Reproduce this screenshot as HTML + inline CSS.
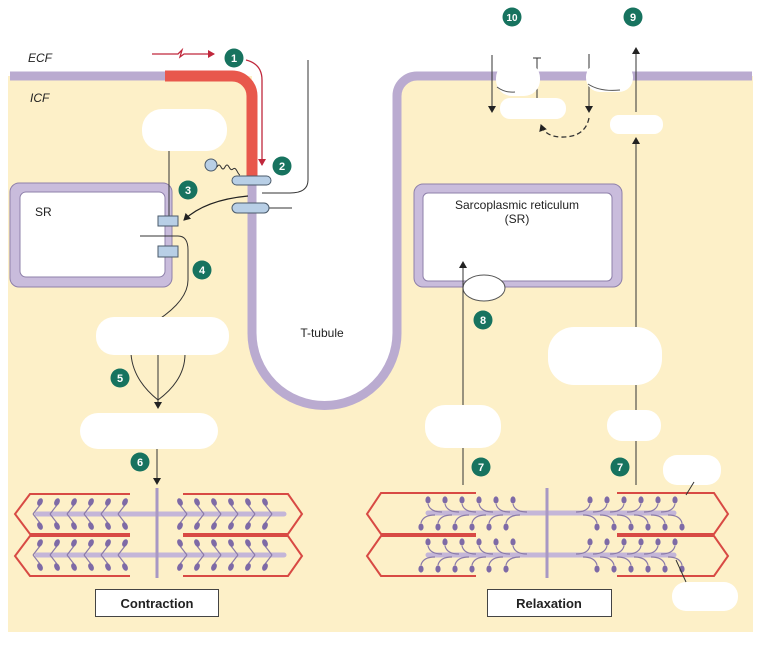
<!DOCTYPE html>
<html><head><meta charset="utf-8"><style>
html,body{margin:0;padding:0;background:#fff;}
svg{display:block;font-family:"Liberation Sans",Arial,sans-serif;}
</style></head><body>
<svg width="772" height="652" viewBox="0 0 772 652" xmlns="http://www.w3.org/2000/svg">
<defs>
<marker id="ah" markerWidth="8" markerHeight="8" refX="6" refY="4" orient="auto" markerUnits="userSpaceOnUse"><path d="M0,0 L7,4 L0,8 z" fill="#222"/></marker>
<marker id="ar" markerWidth="8" markerHeight="8" refX="6" refY="4" orient="auto" markerUnits="userSpaceOnUse"><path d="M0,0 L7,4 L0,8 z" fill="#c0283c"/></marker>
<g id="hu"><path d="M0,12 L7,3" stroke="#8a7aa8" stroke-width="1.2" fill="none"/><ellipse cx="7" cy="0" rx="2.6" ry="4" fill="#7e6aa6" transform="rotate(25 7 0)"/></g>
<g id="hd"><path d="M0,-12 L7,-3" stroke="#8a7aa8" stroke-width="1.2" fill="none"/><ellipse cx="7" cy="0" rx="2.6" ry="4" fill="#7e6aa6" transform="rotate(-25 7 0)"/></g>
<g id="ru"><path d="M14,10 Q2,10 0,2" stroke="#8a7aa8" stroke-width="1.2" fill="none"/><ellipse cx="0" cy="-2" rx="2.6" ry="3.6" fill="#7e6aa6"/></g>
<g id="rd"><path d="M14,-10 Q2,-10 0,-2" stroke="#8a7aa8" stroke-width="1.2" fill="none"/><ellipse cx="0" cy="2" rx="2.6" ry="3.6" fill="#7e6aa6"/></g>
<g id="lu"><path d="M-14,10 Q-2,10 0,2" stroke="#8a7aa8" stroke-width="1.2" fill="none"/><ellipse cx="0" cy="-2" rx="2.6" ry="3.6" fill="#7e6aa6"/></g>
<g id="ld"><path d="M-14,-10 Q-2,-10 0,-2" stroke="#8a7aa8" stroke-width="1.2" fill="none"/><ellipse cx="0" cy="2" rx="2.6" ry="3.6" fill="#7e6aa6"/></g>
</defs>

<!-- cytoplasm -->
<rect x="8" y="76" width="745" height="556" fill="#fdf0c8"/>
<!-- T-tubule interior -->
<path d="M232,72 L252,72 L252,333 A72.5,72.5 0 0 0 397,333 L397,96 A20,20 0 0 1 417,72 L440,72 L440,60 L232,60 z" fill="#fff"/>
<!-- membrane -->
<path d="M10,76 L232,76 A20,20 0 0 1 252,96 L252,333 A72.5,72.5 0 0 0 397,333 L397,96 A20,20 0 0 1 417,76 L752,76" fill="none" stroke="#c4b6d8" stroke-width="9"/>
<path d="M10,76 L232,76 A20,20 0 0 1 252,96 L252,333 A72.5,72.5 0 0 0 397,333 L397,96 A20,20 0 0 1 417,76 L752,76" fill="none" stroke="#9a8ab8" stroke-width="9" stroke-opacity="0.25"/>
<path d="M165,76 L232,76 A20,20 0 0 1 252,96 L252,176" fill="none" stroke="#e8584c" stroke-width="11"/>

<text x="28" y="62" font-size="12" font-style="italic" fill="#222">ECF</text>
<text x="30" y="102" font-size="12" font-style="italic" fill="#222">ICF</text>
<text x="322" y="337" font-size="12" text-anchor="middle" fill="#222">T-tubule</text>

<!-- red stimulus -->
<path d="M152,54 L178,54 L182,50 L180,57 L184,54 L214,54" fill="none" stroke="#c0283c" stroke-width="1.3" marker-end="url(#ar)"/>
<path d="M246,60 Q262,64 262,80 L262,165" fill="none" stroke="#c0283c" stroke-width="1.3" marker-end="url(#ar)"/>

<!-- SR left -->
<rect x="10" y="183" width="162" height="104" rx="9" fill="#c9bcdc" stroke="#8e80aa" stroke-width="1"/>
<rect x="20" y="192" width="145" height="85" rx="6" fill="#fff" stroke="#8e80aa" stroke-width="1"/>
<text x="35" y="216" font-size="12" fill="#222">SR</text>

<!-- T-tubule thin line -->
<path d="M308,60 L308,180 Q308,193 290,193 L262,193" fill="none" stroke="#333" stroke-width="1"/>
<line x1="268" y1="208" x2="292" y2="208" stroke="#333" stroke-width="1"/>

<!-- DHP channels -->
<rect x="232" y="176" width="39" height="9" rx="4.5" fill="#b8cfe6" stroke="#4a5a6a" stroke-width="1"/>
<rect x="232" y="203" width="37" height="10" rx="5" fill="#b8cfe6" stroke="#4a5a6a" stroke-width="1"/>
<circle cx="211" cy="165" r="6" fill="#b8cfe6" stroke="#4a5a6a" stroke-width="1"/>
<path d="M217,167 q2,-4 4,0 t4,0 t4,0 t4,2 t4,2 t3,4" fill="none" stroke="#333" stroke-width="1"/>

<!-- arrow 3 -->
<path d="M248,196 Q205,200 184,220" fill="none" stroke="#222" stroke-width="1.2" marker-end="url(#ah)"/>

<!-- RyR -->
<line x1="169" y1="150" x2="169" y2="216" stroke="#333" stroke-width="1"/>
<rect x="158" y="216" width="20" height="10" fill="#b8cfe6" stroke="#4a5a6a" stroke-width="1"/>
<rect x="158" y="246" width="20" height="11" fill="#b8cfe6" stroke="#4a5a6a" stroke-width="1"/>
<path d="M140,236 L178,236 Q188,236 188,250 L188,280 Q188,300 158,320" fill="none" stroke="#333" stroke-width="1"/>

<!-- 5 branching arrows -->
<path d="M131,354 Q133,380 158,400" fill="none" stroke="#333" stroke-width="1"/>
<path d="M185,354 Q185,380 158,400" fill="none" stroke="#333" stroke-width="1"/>
<line x1="158" y1="354" x2="158" y2="408" stroke="#333" stroke-width="1" marker-end="url(#ah)"/>
<line x1="157" y1="448" x2="157" y2="484" stroke="#333" stroke-width="1" marker-end="url(#ah)"/>

<!-- SR right -->
<rect x="414" y="184" width="208" height="103" rx="9" fill="#c9bcdc" stroke="#8e80aa" stroke-width="1"/>
<rect x="423" y="193" width="189" height="88" rx="5" fill="#fff" stroke="#8e80aa" stroke-width="1"/>
<text x="517" y="209" font-size="12" text-anchor="middle" fill="#222">Sarcoplasmic reticulum</text>
<text x="517" y="223" font-size="12" text-anchor="middle" fill="#222">(SR)</text>
<ellipse cx="484" cy="288" rx="21" ry="13" fill="#fff" stroke="#555" stroke-width="1"/>
<line x1="463" y1="485" x2="463" y2="262" stroke="#333" stroke-width="1" marker-end="url(#ah)"/>
<line x1="636" y1="485" x2="636" y2="138" stroke="#333" stroke-width="1" marker-end="url(#ah)"/>
<line x1="636" y1="112" x2="636" y2="48" stroke="#333" stroke-width="1" marker-end="url(#ah)"/>
<line x1="492" y1="55" x2="492" y2="112" stroke="#333" stroke-width="1" marker-end="url(#ah)"/>
<line x1="537" y1="58" x2="537" y2="100" stroke="#333" stroke-width="1"/>
<line x1="533" y1="58" x2="541" y2="58" stroke="#333" stroke-width="1"/>
<line x1="589" y1="54" x2="589" y2="112" stroke="#333" stroke-width="1" marker-end="url(#ah)"/>
<path d="M589,118 Q585,138 560,137 Q545,136 541,125" fill="none" stroke="#333" stroke-width="1.3" stroke-dasharray="5,3" marker-end="url(#ah)"/>

<!-- white blobs -->
<g fill="#fff">
<rect x="142" y="109" width="85" height="42" rx="20"/>
<rect x="96" y="317" width="133" height="38" rx="18"/>
<rect x="80" y="413" width="138" height="36" rx="18"/>
<rect x="548" y="327" width="114" height="58" rx="26"/>
<rect x="425" y="405" width="76" height="43" rx="20"/>
<rect x="607" y="410" width="54" height="31" rx="15"/>
<rect x="663" y="455" width="58" height="30" rx="14"/>
<rect x="672" y="582" width="66" height="29" rx="14"/>
<rect x="500" y="98" width="66" height="21" rx="10"/>
<rect x="610" y="115" width="53" height="19" rx="9"/>
<rect x="496" y="62" width="44" height="34" rx="16"/>
<rect x="586" y="63" width="47" height="29" rx="14"/>
</g>
<path d="M497,87 Q505,93 515,92" stroke="#555" fill="none"/>
<path d="M588,84 Q600,92 620,90" stroke="#555" fill="none"/>

<!-- contraction sarcomeres -->
<g fill="none" stroke="#d84a44" stroke-width="2">
<path d="M130,494 L30,494 L15,514 L30,534 L130,534"/>
<path d="M183,494 L288,494 L302,514 L288,534 L183,534"/>
<path d="M130,536 L30,536 L15,556 L30,576 L130,576"/>
<path d="M183,536 L288,536 L302,556 L288,576 L183,576"/>
</g>
<g stroke="#c4b6d8" stroke-width="5" stroke-linecap="round">
<line x1="37" y1="514" x2="284" y2="514"/>
<line x1="37" y1="555" x2="284" y2="555"/>
</g>
<line x1="157" y1="488" x2="157" y2="578" stroke="#a898c4" stroke-width="3"/>
<g>
<use href="#hu" x="33" y="502"/><use href="#hu" x="50" y="502"/><use href="#hu" x="67" y="502"/><use href="#hu" x="84" y="502"/><use href="#hu" x="101" y="502"/><use href="#hu" x="118" y="502"/>
<use href="#hd" x="33" y="526"/><use href="#hd" x="50" y="526"/><use href="#hd" x="67" y="526"/><use href="#hd" x="84" y="526"/><use href="#hd" x="101" y="526"/><use href="#hd" x="118" y="526"/>
<use href="#hu" x="33" y="543"/><use href="#hu" x="50" y="543"/><use href="#hu" x="67" y="543"/><use href="#hu" x="84" y="543"/><use href="#hu" x="101" y="543"/><use href="#hu" x="118" y="543"/>
<use href="#hd" x="33" y="567"/><use href="#hd" x="50" y="567"/><use href="#hd" x="67" y="567"/><use href="#hd" x="84" y="567"/><use href="#hd" x="101" y="567"/><use href="#hd" x="118" y="567"/>
<g transform="translate(462,0) scale(-1,1)">
<use href="#hu" x="190" y="502"/><use href="#hu" x="207" y="502"/><use href="#hu" x="224" y="502"/><use href="#hu" x="241" y="502"/><use href="#hu" x="258" y="502"/><use href="#hu" x="275" y="502"/>
<use href="#hd" x="190" y="526"/><use href="#hd" x="207" y="526"/><use href="#hd" x="224" y="526"/><use href="#hd" x="241" y="526"/><use href="#hd" x="258" y="526"/><use href="#hd" x="275" y="526"/>
<use href="#hu" x="190" y="543"/><use href="#hu" x="207" y="543"/><use href="#hu" x="224" y="543"/><use href="#hu" x="241" y="543"/><use href="#hu" x="258" y="543"/><use href="#hu" x="275" y="543"/>
<use href="#hd" x="190" y="567"/><use href="#hd" x="207" y="567"/><use href="#hd" x="224" y="567"/><use href="#hd" x="241" y="567"/><use href="#hd" x="258" y="567"/><use href="#hd" x="275" y="567"/>
</g>
</g>

<!-- relaxation sarcomeres -->
<g fill="none" stroke="#d84a44" stroke-width="2">
<path d="M476,493 L381,493 L367,514 L381,534 L476,534"/>
<path d="M617,493 L714,493 L728,514 L714,534 L617,534"/>
<path d="M476,536 L381,536 L367,556 L381,576 L476,576"/>
<path d="M617,536 L714,536 L728,556 L714,576 L617,576"/>
</g>
<g stroke="#c4b6d8" stroke-width="5" stroke-linecap="round">
<line x1="428" y1="513" x2="674" y2="513"/>
<line x1="428" y1="555" x2="674" y2="555"/>
</g>
<line x1="547" y1="488" x2="547" y2="578" stroke="#a898c4" stroke-width="3"/>
<g>
<use href="#ru" x="428" y="502"/><use href="#ru" x="445" y="502"/><use href="#ru" x="462" y="502"/><use href="#ru" x="479" y="502"/><use href="#ru" x="496" y="502"/><use href="#ru" x="513" y="502"/>
<use href="#rd" x="421" y="525"/><use href="#rd" x="438" y="525"/><use href="#rd" x="455" y="525"/><use href="#rd" x="472" y="525"/><use href="#rd" x="489" y="525"/><use href="#rd" x="506" y="525"/>
<use href="#ru" x="428" y="544"/><use href="#ru" x="445" y="544"/><use href="#ru" x="462" y="544"/><use href="#ru" x="479" y="544"/><use href="#ru" x="496" y="544"/><use href="#ru" x="513" y="544"/>
<use href="#rd" x="421" y="567"/><use href="#rd" x="438" y="567"/><use href="#rd" x="455" y="567"/><use href="#rd" x="472" y="567"/><use href="#rd" x="489" y="567"/><use href="#rd" x="506" y="567"/>
<use href="#lu" x="590" y="502"/><use href="#lu" x="607" y="502"/><use href="#lu" x="624" y="502"/><use href="#lu" x="641" y="502"/><use href="#lu" x="658" y="502"/><use href="#lu" x="675" y="502"/>
<use href="#ld" x="597" y="525"/><use href="#ld" x="614" y="525"/><use href="#ld" x="631" y="525"/><use href="#ld" x="648" y="525"/><use href="#ld" x="665" y="525"/><use href="#ld" x="682" y="525"/>
<use href="#lu" x="590" y="544"/><use href="#lu" x="607" y="544"/><use href="#lu" x="624" y="544"/><use href="#lu" x="641" y="544"/><use href="#lu" x="658" y="544"/><use href="#lu" x="675" y="544"/>
<use href="#ld" x="597" y="567"/><use href="#ld" x="614" y="567"/><use href="#ld" x="631" y="567"/><use href="#ld" x="648" y="567"/><use href="#ld" x="665" y="567"/><use href="#ld" x="682" y="567"/>
</g>
<line x1="686" y1="495" x2="694" y2="482" stroke="#333" stroke-width="1"/>
<line x1="676" y1="560" x2="686" y2="582" stroke="#333" stroke-width="1"/>

<!-- label boxes -->
<rect x="95.5" y="589.5" width="123" height="27" fill="#fff" stroke="#444" stroke-width="1"/>
<text x="157" y="608" font-size="13" font-weight="bold" text-anchor="middle" fill="#222">Contraction</text>
<rect x="487.5" y="589.5" width="124" height="27" fill="#fff" stroke="#444" stroke-width="1"/>
<text x="549" y="608" font-size="13" font-weight="bold" text-anchor="middle" fill="#222">Relaxation</text>

<!-- number badges -->
<g font-size="11" font-weight="bold" fill="#fff" text-anchor="middle">
<circle cx="234" cy="58" r="9.5" fill="#17735f"/><text x="234" y="62">1</text>
<circle cx="282" cy="166" r="9.5" fill="#17735f"/><text x="282" y="170">2</text>
<circle cx="188" cy="190" r="9.5" fill="#17735f"/><text x="188" y="194">3</text>
<circle cx="202" cy="270" r="9.5" fill="#17735f"/><text x="202" y="274">4</text>
<circle cx="120" cy="378" r="9.5" fill="#17735f"/><text x="120" y="382">5</text>
<circle cx="140" cy="462" r="9.5" fill="#17735f"/><text x="140" y="466">6</text>
<circle cx="481" cy="467" r="9.5" fill="#17735f"/><text x="481" y="471">7</text>
<circle cx="620" cy="467" r="9.5" fill="#17735f"/><text x="620" y="471">7</text>
<circle cx="483" cy="320" r="9.5" fill="#17735f"/><text x="483" y="324">8</text>
<circle cx="633" cy="17" r="9.5" fill="#17735f"/><text x="633" y="21">9</text>
<circle cx="512" cy="17" r="9.5" fill="#17735f"/><text x="512" y="21" font-size="10">10</text>
</g>
</svg>
</body></html>
